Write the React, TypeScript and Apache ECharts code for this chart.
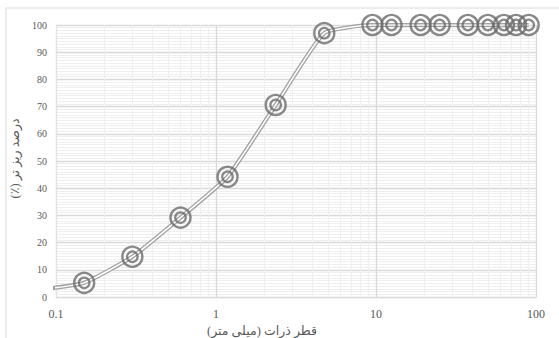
import React, { useEffect, useRef } from "react";
import * as echarts from "echarts";

// Sieve sizes (mm) and cumulative percent passing
const sieveSizes = [0.075, 0.15, 0.3, 0.6, 1.18, 2.36, 4.75, 9.5, 12.5, 19, 25, 37.5, 50, 63, 75, 90];
const percentPassing = [2.5, 5.2, 14.8, 29.2, 44.2, 70.6, 97, 100, 100, 100, 100, 100, 100, 100, 100, 100];

// Minor vertical grid positions (2..9 of each decade)
const minorXLines = [
  0.2, 0.3, 0.4, 0.5, 0.6, 0.7, 0.8, 0.9,
  2, 3, 4, 5, 6, 7, 8, 9,
  20, 30, 40, 50, 60, 70, 80, 90,
];

// Trailing RLM keeps the Persian titles in right-to-left order
const xAxisName = "قطر ذرات (میلی متر)\u200F";
const yAxisName = "درصد ریز تر (٪)\u200F";

const FONT = "'Times New Roman', 'Liberation Serif', 'DejaVu Sans', serif";

export default function App() {
  const ref = useRef<HTMLDivElement>(null);

  useEffect(() => {
    if (!ref.current) return;
    const chart = echarts.init(ref.current, undefined, { renderer: "svg" });
    const points = sieveSizes.map((s, i) => [s, percentPassing[i]]);
    const ringColor = "#6c6c6c";

    chart.setOption({
      animation: false,
      backgroundColor: "#ffffff",
      graphic: [
        {
          type: "rect",
          shape: { x: 6, y: 8, width: 600, height: 400 },
          style: { fill: "none", stroke: "#d9d9d9", lineWidth: 1 },
          silent: true,
          z: -10,
        },
      ],
      grid: { left: 56, right: 23, top: 25, bottom: 41, containLabel: false, outerBoundsMode: "none" },
      xAxis: {
        type: "log",
        logBase: 10,
        min: 0.1,
        max: 100,
        axisLine: { show: true, lineStyle: { color: "#d9d9d9", width: 1 } },
        axisTick: { show: false },
        axisLabel: {
          color: "#595959",
          fontFamily: FONT,
          fontSize: 12,
          margin: 11,
        },
        splitLine: { show: true, lineStyle: { color: "#d9d9d9", width: 1.3 } },
        name: xAxisName,
        nameLocation: "middle",
        nameGap: 20,
        nameTextStyle: { color: "#595959", fontFamily: FONT, fontSize: 12.5, padding: [0, 68, 0, 0] },
      },
      yAxis: {
        type: "value",
        min: 0,
        max: 100,
        interval: 10,
        axisLine: { show: true, lineStyle: { color: "#e3e3e3" } },
        axisTick: { show: false },
        axisLabel: {
          color: "#595959",
          fontFamily: FONT,
          fontSize: 10,
          margin: 9,
        },
        splitLine: { show: true, lineStyle: { color: "#d9d9d9", width: 1.3 } },
        minorTick: { show: false, splitNumber: 10 },
        minorSplitLine: { show: true, lineStyle: { color: "#efefef", width: 1 } },
        name: yAxisName,
        nameLocation: "middle",
        nameRotate: 90,
        nameGap: 15,
        nameTextStyle: { color: "#595959", fontFamily: FONT, fontSize: 12.5, padding: [0, 0, 0, 5] },
      },
      series: [
        {
          type: "line",
          data: points,
          smooth: 0.15,
          clip: true,
          showSymbol: false,
          lineStyle: { color: "#a3a3a3", width: 4.2 },
          z: 2,
          silent: true,
          markLine: {
            silent: true,
            symbol: "none",
            label: { show: false },
            lineStyle: { color: "#efefef", width: 1, type: "solid" },
            data: minorXLines.map((v) => ({ xAxis: v })),
            z: 0,
          },
        },
        {
          type: "line",
          data: points,
          smooth: 0.15,
          clip: true,
          showSymbol: false,
          lineStyle: { color: "#ffffff", width: 1.5 },
          z: 3,
          silent: true,
        },
        {
          type: "scatter",
          data: points,
          clip: true,
          symbol: "circle",
          symbolSize: 20,
          itemStyle: { color: "transparent", borderColor: ringColor, borderWidth: 2.4 },
          z: 4,
          silent: true,
        },
        {
          type: "scatter",
          data: points,
          clip: true,
          symbol: "circle",
          symbolSize: 10.5,
          itemStyle: { color: "transparent", borderColor: ringColor, borderWidth: 2.2 },
          z: 4,
          silent: true,
        },
      ],
    });

    return () => chart.dispose();
  }, []);

  return <div ref={ref} style={{ width: 559, height: 338, position: "absolute", left: 0, top: 0 }} />;
}
